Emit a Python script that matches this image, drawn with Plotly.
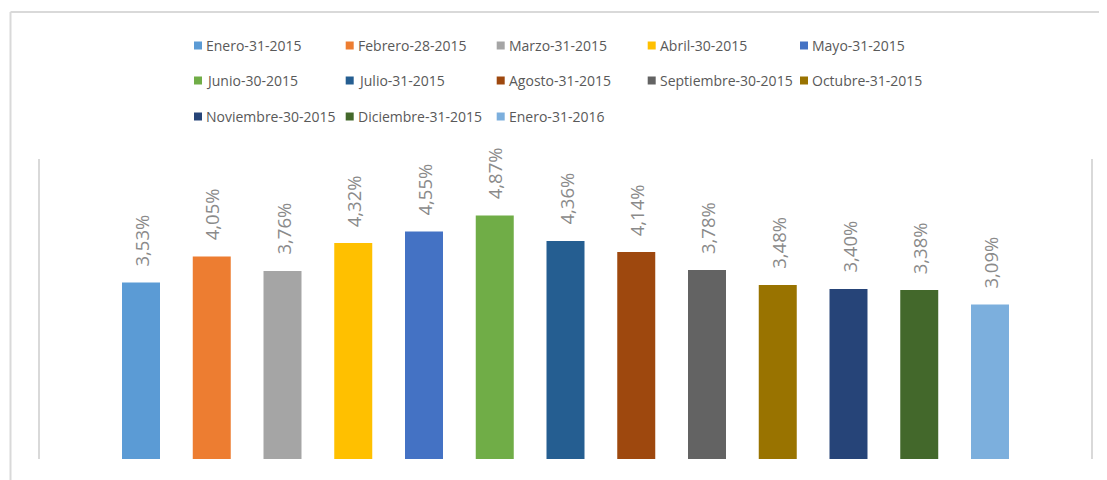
import plotly.graph_objects as go

categories = ["Enero-31-2015", "Febrero-28-2015", "Marzo-31-2015", "Abril-30-2015",
              "Mayo-31-2015", "Junio-30-2015", "Julio-31-2015", "Agosto-31-2015",
              "Septiembre-30-2015", "Octubre-31-2015", "Noviembre-30-2015",
              "Diciembre-31-2015", "Enero-31-2016"]
values = [3.53, 4.05, 3.76, 4.32, 4.55, 4.87, 4.36, 4.14, 3.78, 3.48, 3.40, 3.38, 3.09]
colors = ["#5B9BD5", "#ED7D31", "#A5A5A5", "#FFC000", "#4472C4", "#70AD47", "#255E91",
          "#9E480E", "#636363", "#997300", "#264478", "#43682B", "#7CAFDD"]

OFF = 8  # page body margin
W, H = 1107 - OFF, 480 - OFF
L, R, T, B = 40 - OFF, 1091 - OFF, 159 - OFF, 459 - OFF
pw, ph = R - L, B - T

def px(x):
    return (x - OFF - L) / pw

def py(y):
    return (B - (y - OFF)) / ph

# legend layout (reference pixel positions)
leg_cols = [194, 345.7, 496.7, 647.7, 800]
leg_rows = [45.5, 80.5, 116.5]
sw = 8

fig = go.Figure()
for i, (c, v, col) in enumerate(zip(categories, values, colors)):
    fig.add_trace(go.Bar(
        x=[c], y=[v], name=c, marker=dict(color=col, line=dict(width=0)),
        width=0.537, showlegend=False, hoverinfo="skip"))

annotations = []
shapes = []
for c, v in zip(categories, values):
    annotations.append(dict(
        x=c, y=v, xref="x", yref="y", text=f"{v:.2f}".replace(".", ",") + "%",
        textangle=-90, showarrow=False, yanchor="bottom", xanchor="center",
        yshift=14, font=dict(family="Open Sans", size=18.5, color="#8A8A8A")))

for i, (c, col) in enumerate(zip(categories, colors)):
    sx = leg_cols[i % 5]
    cy = leg_rows[i // 5]
    shapes.append(dict(type="rect", xref="paper", yref="paper",
                       x0=px(sx), x1=px(sx + sw), y0=py(cy + sw / 2), y1=py(cy - sw / 2),
                       fillcolor=col, line=dict(width=0)))
    annotations.append(dict(
        x=px(sx + sw + 2), y=py(cy), xref="paper", yref="paper", text=c,
        showarrow=False, xanchor="left", yanchor="middle",
        font=dict(family="Open Sans", size=14, color="#595959")))

shapes += [
    dict(type="line", xref="paper", yref="paper", x0=px(10.5), x1=px(10.5),
         y0=py(490), y1=py(12), line=dict(color="#D9D9D9", width=2)),
    dict(type="line", xref="paper", yref="paper", x0=px(10.5), x1=px(1120),
         y0=py(12), y1=py(12), line=dict(color="#D9D9D9", width=2)),
]

fig.update_layout(
    width=W, height=H,
    margin=dict(l=L, r=W - R, t=T, b=H - B, pad=0),
    paper_bgcolor="white", plot_bgcolor="white",
    barmode="overlay",
    showlegend=False,
    xaxis=dict(type="category", categoryorder="array", categoryarray=categories,
               range=[-1.4276, 12 + 1.4276], showticklabels=False, ticks="",
               showgrid=False, zeroline=False, showline=False, fixedrange=True),
    yaxis=dict(range=[0, 6], showticklabels=False, ticks="", showgrid=False,
               zeroline=False, showline=True, mirror=True, linecolor="#D9D9D9",
               linewidth=2, fixedrange=True),
    annotations=annotations,
    shapes=shapes,
)

fig.write_html("out.html")
